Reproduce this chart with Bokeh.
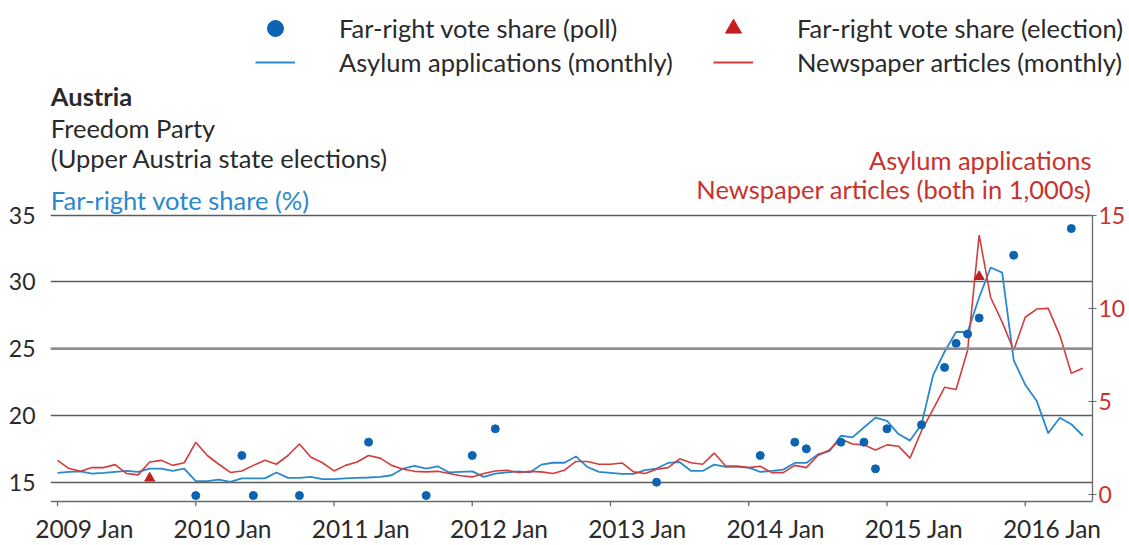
from bokeh.plotting import figure
from bokeh.layouts import column
from bokeh.models import Range1d, LinearAxis, FixedTicker, Label, Legend, LegendItem, Span
from bokeh.embed import file_html
from bokeh.resources import INLINE

# ---------------- data ----------------
# monthly series start 2009 Jan (index 0) and run to 2016 Jun (index 89), in 1,000s
asylum = [1.17, 1.22, 1.25, 1.13, 1.17, 1.22, 1.27, 1.22, 1.40, 1.40, 1.27, 1.40,
          0.72, 0.72, 0.81, 0.69, 0.87, 0.87, 0.87, 1.19, 0.90, 0.90, 0.95, 0.83,
          0.83, 0.87, 0.90, 0.92, 0.95, 1.04, 1.40, 1.54, 1.40, 1.52, 1.19, 1.22,
          1.25, 0.95, 1.13, 1.19, 1.25, 1.19, 1.61, 1.71, 1.71, 2.05, 1.48, 1.22,
          1.17, 1.11, 1.11, 1.31, 1.40, 1.70, 1.75, 1.27, 1.27, 1.61, 1.49, 1.49,
          1.45, 1.22, 1.27, 1.34, 1.70, 1.70, 2.16, 2.33, 3.16, 3.07, 3.60, 4.13,
          3.96, 3.25, 2.90, 3.78, 6.40, 7.67, 8.73, 8.73, 10.58, 12.19, 11.92, 7.22,
          5.90, 5.02, 3.29, 4.13, 3.78, 3.16]
news = [1.84, 1.40, 1.25, 1.45, 1.45, 1.61, 1.13, 1.06, 1.75, 1.84, 1.57, 1.71,
        2.81, 2.10, 1.63, 1.19, 1.27, 1.57, 1.84, 1.63, 2.10, 2.72, 2.01, 1.71,
        1.27, 1.57, 1.75, 2.10, 1.96, 1.57, 1.36, 1.25, 1.22, 1.25, 1.13, 1.01,
        0.95, 1.13, 1.27, 1.31, 1.19, 1.25, 1.22, 1.13, 1.31, 1.78, 1.78, 1.63,
        1.63, 1.70, 1.22, 1.13, 1.36, 1.45, 1.92, 1.71, 1.63, 2.23, 1.54, 1.54,
        1.45, 1.52, 1.18, 1.18, 1.57, 1.45, 2.10, 2.40, 2.98, 2.72, 2.67, 2.40,
        2.67, 2.60, 1.96, 3.43, 4.57, 5.76, 5.64, 7.75, 13.93, 10.58, 9.26, 7.75,
        9.52, 9.96, 10.00, 8.55, 6.52, 6.78]
months = list(range(len(asylum)))

poll_month = [12, 16, 17, 21, 27, 32, 36, 38, 52, 61, 64, 65, 68, 70, 71, 72, 75, 77, 78, 79, 80, 83, 88]
poll_value = [14, 17, 14, 14, 18, 14, 17, 19, 15, 17, 18, 17.5, 18, 18, 16, 19, 19.3, 23.6, 25.4, 26.1, 27.3, 32, 34]
election_month = [8, 80]
election_value = [15.3, 30.4]

tick_months = [0, 12, 24, 36, 48, 60, 72, 84]
tick_labels = ["2009 Jan", "2010 Jan", "2011 Jan", "2012 Jan", "2013 Jan", "2014 Jan", "2015 Jan", "2016 Jan"]
left_ticks = [15, 20, 25, 30, 35]
right_ticks = [0, 5, 10, 15]

FONT = "Lato"
FS = "25.5px"
TEXT = "#2a2a2a"
BLUE_LINE = "#2a88cc"
BLUE_DOT = "#0b63b1"
RED_LINE = "#d23c3c"
RED_TRI = "#c41f1f"
RED_TEXT = "#c8322d"
GRID = "#5c5c5c"
AXIS = "#6a6a6a"

W = 1129
HEAD_H = 80
MAIN_H = 545 - HEAD_H

# ---------------- header: legend ----------------
head = figure(width=W, height=HEAD_H, output_backend="svg", toolbar_location=None,
              x_range=Range1d(0, W), y_range=Range1d(HEAD_H, 0),
              x_axis_location=None, y_axis_location=None,
              min_border_left=0, min_border_right=0, min_border_top=0, min_border_bottom=0,
              outline_line_color=None, background_fill_color="white", border_fill_color="white")
head.frame_align = False
head.xgrid.grid_line_color = None
head.ygrid.grid_line_color = None
# legend renderers: same series, parked on a range outside the header's view
head.extra_x_ranges = {"off": Range1d(1000, 1001)}
k_poll = head.scatter(poll_month, poll_value, x_range_name="off", marker="circle",
                      fill_color=BLUE_DOT, line_color=BLUE_DOT)
k_elec = head.scatter(election_month, election_value, x_range_name="off", marker="triangle",
                      fill_color=RED_TRI, line_color=RED_TRI)
k_asy = head.line(months, asylum, x_range_name="off", line_color=BLUE_LINE, line_width=2)
k_news = head.line(months, news, x_range_name="off", line_color=RED_LINE, line_width=2)


def add_legend(renderer, text, x, y):
    leg = Legend(items=[LegendItem(label=text, renderers=[renderer])], location=(x, y),
                 glyph_width=40, glyph_height=46, label_height=46, label_standoff=44,
                 padding=0, margin=0, spacing=0, border_line_color=None, background_fill_alpha=0,
                 label_text_font=FONT, label_text_font_size=FS, label_text_color=TEXT,
                 label_text_baseline="middle")
    head.add_layout(leg)


add_legend(k_poll, "Far-right vote share (poll)", 255, 29)
add_legend(k_asy, "Asylum applications (monthly)", 255, -5)
add_legend(k_elec, "Far-right vote share (election)", 713, 29)
add_legend(k_news, "Newspaper articles (monthly)", 713, -5)

# ---------------- main chart ----------------
Y0, Y1 = 13.18, 45.09          # left axis range (frame spans page y 80..510)
AXIS_Y = 13.553                # where the x axis line sits (page y 505)
p = figure(width=W, height=MAIN_H, output_backend="svg", toolbar_location=None,
           x_range=Range1d(-0.61, 89.84), y_range=Range1d(Y0, Y1),
           min_border_left=50, min_border_right=37, min_border_top=0, min_border_bottom=35,
           outline_line_color=None, background_fill_color="white", border_fill_color="white")
p.frame_align = False
p.extra_y_ranges = {"right": Range1d(-0.638, 22.23)}

# left axis (labels only)
p.yaxis.ticker = FixedTicker(ticks=left_ticks)
p.yaxis.axis_line_color = None
p.yaxis.major_tick_line_color = None
p.yaxis.major_tick_out = 0
p.yaxis.major_tick_in = 0
p.yaxis.minor_tick_line_color = None
p.yaxis.major_label_standoff = 15
p.yaxis.major_label_text_font = FONT
p.yaxis.major_label_text_font_size = "23px"
p.yaxis.major_label_text_color = TEXT

p.ygrid.ticker = FixedTicker(ticks=left_ticks)
p.ygrid.grid_line_color = GRID
p.ygrid.grid_line_width = 1.3
p.xgrid.grid_line_color = None
p.add_layout(Span(location=25, dimension="width", line_color="#8e8e8e", line_width=2.6))

# x axis line and January tick marks
p.add_layout(Span(location=AXIS_Y, dimension="width", line_color=AXIS, line_width=1.3))
p.segment(x0=tick_months, x1=tick_months, y0=[AXIS_Y] * len(tick_months), y1=[Y0] * len(tick_months),
          line_color=AXIS, line_width=1.3)

# bottom axis: month labels (set slightly right of the January ticks, as in the reference)
label_pos = [m + 2.35 for m in tick_months]
p.xaxis.ticker = FixedTicker(ticks=label_pos)
p.xaxis.major_label_overrides = {pos: lab for pos, lab in zip(label_pos, tick_labels)}
p.xaxis.axis_line_color = None
p.xaxis.major_tick_line_color = None
p.xaxis.major_tick_out = 0
p.xaxis.major_tick_in = 0
p.xaxis.minor_tick_line_color = None
p.xaxis.major_label_standoff = 7
p.xaxis.major_label_text_font = FONT
p.xaxis.major_label_text_font_size = "24.5px"
p.xaxis.major_label_text_color = TEXT

# right axis
raxis = LinearAxis(y_range_name="right", ticker=FixedTicker(ticks=right_ticks), bounds=(-0.372, 15))
raxis.axis_line_color = AXIS
raxis.axis_line_width = 1.3
raxis.major_tick_line_color = AXIS
raxis.major_tick_in = 4
raxis.major_tick_out = 4
raxis.minor_tick_line_color = None
raxis.major_label_standoff = 2
raxis.major_label_text_font = FONT
raxis.major_label_text_font_size = "23px"
raxis.major_label_text_color = RED_TEXT
p.add_layout(raxis, "right")

# data
p.line(months, asylum, y_range_name="right", line_color=BLUE_LINE, line_width=1.8)
p.line(months, news, y_range_name="right", line_color=RED_LINE, line_width=1.6)
p.scatter(poll_month, poll_value, marker="circle", size=8, fill_color=BLUE_DOT, line_color=BLUE_DOT)
p.scatter(election_month, election_value, marker="triangle", size=10, fill_color=RED_TRI, line_color=RED_TRI)


def txt(x, y, s, color=TEXT, align="left", weight="normal"):
    p.add_layout(Label(x=x, y=y, text=s, text_color=color, text_align=align, text_baseline="middle",
                       text_font=FONT, text_font_size=FS, text_font_style=weight))


txt(-0.58, 43.905, "Austria", weight="bold")
txt(-0.58, 41.53, "Freedom Party")
txt(-0.58, 39.30, "(Upper Austria state elections)")
txt(-0.58, 36.11, "Far-right vote share (%)", color=BLUE_LINE)
txt(89.75, 39.156, "Asylum applications", color=RED_TEXT, align="right")
txt(89.75, 37.0, "Newspaper articles (both in 1,000s)", color=RED_TEXT, align="right")

layout = column(head, p, spacing=0)
open("out.html", "w").write(file_html(layout, INLINE))
